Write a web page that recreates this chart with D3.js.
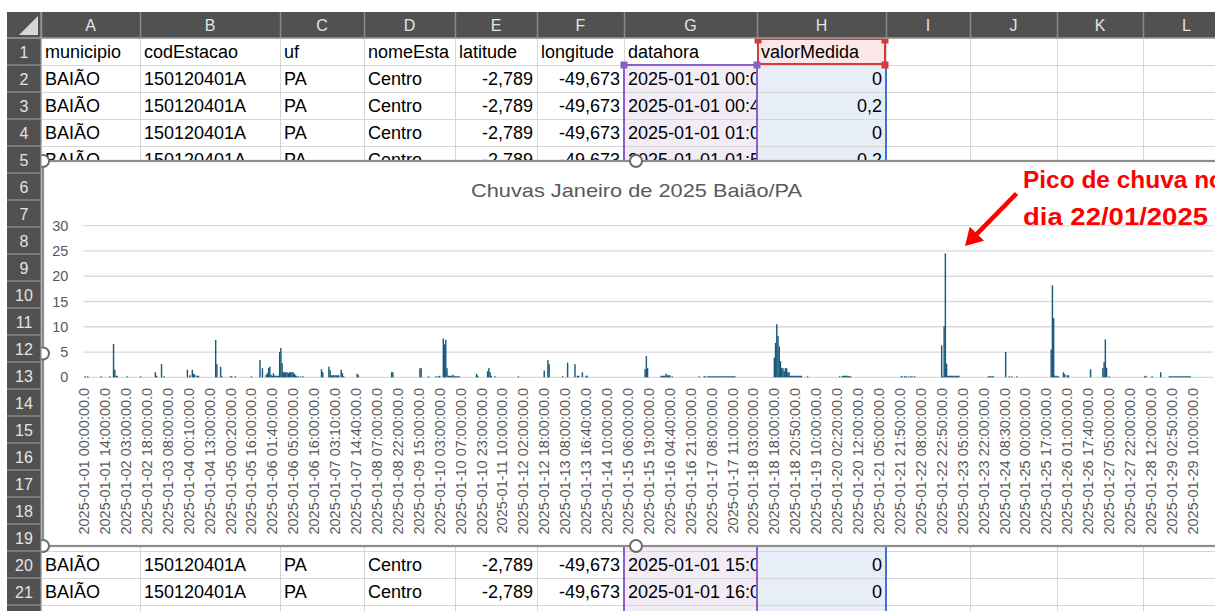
<!DOCTYPE html>
<html><head><meta charset="utf-8">
<script src="https://cdn.jsdelivr.net/npm/d3@7"></script>
<style>
html,body{margin:0;padding:0;background:#fff;overflow:hidden}
svg{display:block}
</style></head><body>
<svg id="sheet" width="1215" height="611"></svg>
<script>
// ---------------- DATA ----------------
const chartTitle = "Chuvas Janeiro de 2025 Baião/PA";
const annotationLines = ["Pico de chuva no", "dia 22/01/2025"];
const categoryCount = 918;          // number of datahora rows plotted
const labelStep = 17;               // Excel shows every 17th category label
const yTicks = [0, 5, 10, 15, 20, 25, 30];
const tickLabels = [
"2025-01-01 00:00:00.0","2025-01-01 14:00:00.0","2025-01-02 03:00:00.0","2025-01-02 18:00:00.0",
"2025-01-03 08:00:00.0","2025-01-04 00:10:00.0","2025-01-04 13:00:00.0","2025-01-05 00:20:00.0",
"2025-01-05 16:00:00.0","2025-01-06 01:40:00.0","2025-01-06 05:00:00.0","2025-01-06 16:00:00.0",
"2025-01-07 03:10:00.0","2025-01-07 14:40:00.0","2025-01-08 07:00:00.0","2025-01-08 22:00:00.0",
"2025-01-09 15:00:00.0","2025-01-10 03:00:00.0","2025-01-10 07:00:00.0","2025-01-10 23:00:00.0",
"2025-01-11 10:00:00.0","2025-01-12 02:00:00.0","2025-01-12 18:00:00.0","2025-01-13 08:00:00.0",
"2025-01-13 16:40:00.0","2025-01-14 10:00:00.0","2025-01-15 06:00:00.0","2025-01-15 19:00:00.0",
"2025-01-16 04:40:00.0","2025-01-16 21:00:00.0","2025-01-17 08:00:00.0","2025-01-17 11:00:00.0",
"2025-01-18 03:00:00.0","2025-01-18 18:00:00.0","2025-01-18 20:50:00.0","2025-01-19 10:00:00.0",
"2025-01-20 02:20:00.0","2025-01-20 12:00:00.0","2025-01-21 05:00:00.0","2025-01-21 21:50:00.0",
"2025-01-22 08:00:00.0","2025-01-22 22:50:00.0","2025-01-23 05:00:00.0","2025-01-23 22:00:00.0",
"2025-01-24 08:30:00.0","2025-01-25 00:00:00.0","2025-01-25 17:00:00.0","2025-01-26 01:00:00.0",
"2025-01-26 17:40:00.0","2025-01-27 05:00:00.0","2025-01-27 22:00:00.0","2025-01-28 12:00:00.0",
"2025-01-29 02:50:00.0","2025-01-29 10:00:00.0"];
// [category index, valorMedida (mm)] - non-zero readings only
const rainReadings = [
[1,0.2],[3,0.2],[14,0.2],[21,0.2],[24,6.6],[25,1.5],[26,0.3],[27,0.3],[35,0.2],[46,0.2],[58,1.0],[59,0.3],[63,2.6],[65,0.2],
[84,1.5],[86,0.4],[88,1.5],[89,0.7],[90,0.5],[92,0.3],[93,0.3],
[107,7.4],[108,2.6],[111,2.1],[112,0.2],[119,0.2],[120,0.2],[123,0.2],[136,0.2],
[143,3.4],[145,1.8],[148,0.5],[149,0.8],[150,1.8],[151,2.1],[152,0.5],[153,0.3],[154,0.8],[155,0.3],[156,0.3],[157,0.3],[158,0.3],
[159,5.0],[160,5.8],[161,2.8],[162,1.0],[163,1.0],[164,1.0],[165,1.0],[166,0.8],[167,1.0],[168,1.0],[169,1.0],[170,1.0],[171,0.7],
[172,0.4],[173,0.2],[174,0.2],[176,0.2],[178,0.2],
[193,1.6],[194,1.0],[199,2.1],[200,1.4],[201,0.4],[202,0.4],[203,0.4],[204,0.4],[205,0.4],[206,0.4],[207,0.4],
[209,1.5],[210,0.8],[211,0.2],[222,0.7],[223,0.4],[250,1.0],[251,1.0],[273,1.8],[274,1.8],[280,0.2],[286,0.2],[288,0.2],[289,0.3],
[292,7.7],[293,6.5],[294,7.4],[295,1.8],[296,0.3],[297,0.3],[298,0.3],[299,0.3],[300,0.5],[301,0.2],[302,0.2],[303,0.2],[304,0.2],[305,0.2],
[319,0.7],[320,0.3],[328,1.2],[329,1.8],[330,1.0],[331,0.3],[334,0.2],[353,0.2],
[374,1.3],[377,3.4],[378,2.6],[389,0.2],[393,2.9],[399,2.6],[401,0.3],[402,0.3],[405,1.0],[408,0.3],[409,0.3],
[456,1.6],[457,4.2],[458,1.8],[469,0.3],[470,0.3],[471,0.3],[472,0.3],[473,0.7],[474,0.4],[475,0.4],[476,0.4],[478,0.2],
[500,0.2],[504,0.2],[505,0.2],[507,0.2],[508,0.2],[509,0.2],[510,0.2],[511,0.2],[512,0.2],[513,0.2],[514,0.2],[515,0.2],
[516,0.2],[517,0.2],[518,0.2],[519,0.2],[520,0.2],[521,0.2],[522,0.2],[523,0.2],[524,0.2],[525,0.2],[526,0.2],[527,0.2],[528,0.2],[529,0.2],
[561,3.9],[562,6.8],[563,10.5],[564,8.2],[565,6.1],[566,3.2],[567,1.8],[568,1.8],[569,1.2],[570,1.8],[571,1.8],[572,1.0],[573,1.0],
[574,0.3],[575,0.3],[576,0.3],[577,0.3],[578,0.3],[579,0.3],[580,0.3],[581,0.3],[582,0.3],[583,0.3],[588,0.2],
[614,0.2],[616,0.2],[617,0.3],[618,0.3],[619,0.3],[620,0.3],[621,0.3],[622,0.2],[623,0.2],
[664,0.2],[665,0.2],[667,0.2],[668,0.2],[670,0.2],[672,0.2],[673,0.2],[675,0.2],
[697,6.3],[698,0.2],[699,10.1],[700,24.5],[701,2.7],[702,0.3],[703,0.3],[704,0.3],[705,0.3],[706,0.3],[707,0.3],[708,0.3],[709,0.3],[710,0.3],[711,0.3],
[735,0.2],[736,0.2],[737,0.2],[738,0.2],[739,0.2],[749,5.0],[752,0.2],[754,0.2],[758,0.2],
[786,5.5],[787,18.2],[788,11.7],[789,0.3],[790,0.3],[791,0.2],[792,0.2],
[796,1.0],[797,0.6],[799,0.4],[800,0.4],[818,1.6],
[828,1.8],[829,3.0],[830,7.5],[831,1.9],[833,0.2],[862,0.2],[863,0.3],[868,0.2],[875,1.0],
[882,0.2],[883,0.2],[884,0.2],[885,0.2],[886,0.2],[887,0.2],[888,0.2],[889,0.2],[890,0.2],[891,0.2],[892,0.2],[893,0.2],
[894,0.2],[895,0.2],[896,0.2],[897,0.2],[898,0.2],[899,0.2]];

// spreadsheet contents
const columnLetters = ["A","B","C","D","E","F","G","H","I","J","K","L"];
const headerCells = ["municipio","codEstacao","uf","nomeEsta","latitude","longitude","datahora","valorMedida"];
const sheetRows = [2,3,4,5,20,21];
const municipioCol = ["BAIÃO","BAIÃO","BAIÃO","BAIÃO","BAIÃO","BAIÃO"];
const codEstacaoCol = ["150120401A","150120401A","150120401A","150120401A","150120401A","150120401A"];
const ufCol = ["PA","PA","PA","PA","PA","PA"];
const nomeCol = ["Centro","Centro","Centro","Centro","Centro","Centro"];
const latitudeCol = ["-2,789","-2,789","-2,789","-2,789","-2,789","-2,789"];
const longitudeCol = ["-49,673","-49,673","-49,673","-49,673","-49,673","-49,673"];
const datahoraCol = ["2025-01-01 00:00:00.0","2025-01-01 00:40:00.0","2025-01-01 01:00:00.0","2025-01-01 01:50:00.0",
                     "2025-01-01 15:00:00.0","2025-01-01 16:00:00.0"];
const valorCol = ["0","0,2","0","0,2","0","0"];

// ---------------- LAYOUT ----------------
const W = 1215, H = 611;
const FONT = "'Liberation Sans', Arial, sans-serif";
const colEdges = [41,140,280,364,455,537,624,757,886,970,1057,1143,1230];
const rowH = 27, sheetTop = 38;
const rowTop = r => sheetTop + (r - 1) * rowH;

const svg = d3.select("#sheet");
const defs = svg.append("defs");
svg.append("rect").attr("width", W).attr("height", H).attr("fill", "#fff");

// selection fills (chart source ranges)
const gx0 = colEdges[6], gx1 = colEdges[7], hx1 = colEdges[8];
svg.append("rect").attr("x", gx0).attr("y", rowTop(2)).attr("width", gx1 - gx0).attr("height", H).attr("fill", "#f2ecf7");
svg.append("rect").attr("x", gx1).attr("y", rowTop(2)).attr("width", hx1 - gx1).attr("height", H).attr("fill", "#e8eef8");
svg.append("rect").attr("x", gx1).attr("y", rowTop(1)).attr("width", hx1 - gx1).attr("height", rowH).attr("fill", "#fbe7e7");

// sheet gridlines
const grid = svg.append("g").attr("stroke", "#d6d6d6").attr("stroke-width", 1);
for (let r = 1; r <= 23; r++) {
  grid.append("line").attr("x1", 41).attr("x2", W).attr("y1", rowTop(r) + 0.5).attr("y2", rowTop(r) + 0.5);
}
colEdges.forEach(x => grid.append("line").attr("x1", x + 0.5).attr("x2", x + 0.5).attr("y1", sheetTop).attr("y2", H));

// cell text
colEdges.slice(0, -1).forEach((x, i) => {
  defs.append("clipPath").attr("id", "col" + i).append("rect")
    .attr("x", x + 1).attr("y", 0).attr("width", colEdges[i + 1] - x - 2).attr("height", H);
});
const cells = svg.append("g").attr("font-family", FONT).attr("font-size", 18).attr("fill", "#000");
function cell(r, c, txt, align) {
  const x0 = colEdges[c], x1 = colEdges[c + 1];
  cells.append("text")
    .attr("clip-path", "url(#col" + c + ")")
    .attr("x", align === "end" ? x1 - 4 : x0 + 4)
    .attr("y", rowTop(r) + 20)
    .attr("text-anchor", align === "end" ? "end" : "start")
    .text(txt);
}
headerCells.forEach((t, c) => cell(1, c, t, "start"));
sheetRows.forEach((r, i) => {
  cell(r, 0, municipioCol[i], "start");
  cell(r, 1, codEstacaoCol[i], "start");
  cell(r, 2, ufCol[i], "start");
  cell(r, 3, nomeCol[i], "start");
  cell(r, 4, latitudeCol[i], "end");
  cell(r, 5, longitudeCol[i], "end");
  cell(r, 6, datahoraCol[i], "start");
  cell(r, 7, valorCol[i], "end");
});

// selection borders
const purple = "#8a5fc6", red = "#d43c3c", blue = "#3f73cf";
const sel = svg.append("g").attr("stroke-width", 2).attr("fill", "none");
sel.append("line").attr("x1", gx0).attr("x2", gx0).attr("y1", rowTop(2)).attr("y2", H).attr("stroke", purple);
sel.append("line").attr("x1", gx1).attr("x2", gx1).attr("y1", rowTop(2)).attr("y2", H).attr("stroke", purple);
sel.append("line").attr("x1", gx0).attr("x2", gx1).attr("y1", rowTop(2)).attr("y2", rowTop(2)).attr("stroke", purple);
sel.append("line").attr("x1", hx1).attr("x2", hx1).attr("y1", rowTop(2)).attr("y2", H).attr("stroke", blue);
sel.append("rect").attr("x", gx1 + 1).attr("y", rowTop(1) + 1).attr("width", hx1 - gx1 - 2).attr("height", rowH - 2).attr("stroke", red);
const sq = (x, y, col) => svg.append("rect").attr("x", x - 3.5).attr("y", y - 3.5).attr("width", 7).attr("height", 7).attr("fill", col);
sq(gx0, rowTop(2), purple); sq(gx1, rowTop(2), purple);
sq(gx1 + 1, rowTop(1) + 2, red); sq(hx1 - 1, rowTop(1) + 2, red); sq(hx1 - 1, rowTop(2), red);

// ---------------- CHART ----------------
const cx = 43, cy = 161, cw = 1186, ch = 385;
defs.append("clipPath").attr("id", "chartClip").append("rect").attr("x", cx).attr("y", cy).attr("width", cw).attr("height", ch);
svg.append("rect").attr("x", cx).attr("y", cy).attr("width", cw).attr("height", ch).attr("fill", "#fff");
const chart = svg.append("g").attr("clip-path", "url(#chartClip)");

const plotL = 83.4, plotR = 1213, plotT = 225.7, plotB = 377.3;
const x = d3.scaleBand().domain(d3.range(categoryCount)).range([plotL, plotR]).paddingInner(0).paddingOuter(0);
const y = d3.scaleLinear().domain([0, 30]).range([plotB, plotT]);

// gridlines
chart.append("g").selectAll("line").data(yTicks).join("line")
  .attr("x1", plotL).attr("x2", plotR)
  .attr("y1", d => y(d)).attr("y2", d => y(d))
  .attr("stroke", "#d9d9d9").attr("stroke-width", 1.3);

// y axis
const yAxis = chart.append("g").attr("transform", `translate(${plotL},0)`)
  .call(d3.axisLeft(y).tickValues(yTicks).tickSize(0).tickPadding(15));
yAxis.select(".domain").remove();
yAxis.selectAll("text").attr("font-family", FONT).attr("font-size", 14.5).attr("fill", "#595959");

// bars
chart.append("g").selectAll("rect").data(rainReadings).join("rect")
  .attr("x", d => x(d[0]) - 0.1).attr("width", x.bandwidth() + 0.2)
  .attr("y", d => y(d[1])).attr("height", d => y(0) - y(d[1]))
  .attr("fill", "#185a7d");

// x axis
const xAxis = chart.append("g").attr("transform", `translate(0,${plotB})`)
  .call(d3.axisBottom(x)
    .tickValues(d3.range(0, categoryCount, labelStep))
    .tickFormat(i => tickLabels[i / labelStep])
    .tickSize(0));
xAxis.select(".domain").remove();
xAxis.selectAll("text")
  .attr("font-family", FONT).attr("font-size", 14.5).attr("fill", "#595959")
  .attr("transform", "rotate(-90)")
  .attr("x", -10.5).attr("y", 0).attr("dy", "0.35em")
  .attr("text-anchor", "end");

// title
chart.append("text").attr("x", 636.5).attr("y", 197)
  .attr("text-anchor", "middle").attr("font-family", FONT).attr("font-size", 19)
  .attr("fill", "#595959").attr("textLength", 331).attr("lengthAdjust", "spacingAndGlyphs")
  .text(chartTitle);

// chart frame + handles
svg.append("rect").attr("x", cx).attr("y", cy).attr("width", cw).attr("height", ch)
  .attr("fill", "none").attr("stroke", "#8c8c8c").attr("stroke-width", 2.2);
[[cx, cy], [636, cy], [cx, cy + ch / 2], [cx, cy + ch], [636, cy + ch]].forEach(p => {
  svg.append("circle").attr("cx", p[0]).attr("cy", p[1]).attr("r", 6)
    .attr("fill", "#fff").attr("stroke", "#6b6b6b").attr("stroke-width", 2);
});

// annotation
const ann = svg.append("g").attr("fill", "#ff0000").attr("font-family", FONT).attr("font-weight", "bold").attr("font-size", 23.5);
ann.append("text").attr("x", 1023).attr("y", 188).attr("textLength", 201).attr("lengthAdjust", "spacingAndGlyphs").text(annotationLines[0]);
ann.append("text").attr("x", 1023).attr("y", 225).attr("textLength", 185).attr("lengthAdjust", "spacingAndGlyphs").text(annotationLines[1]);
const tail = [1016.5, 193.5], tip = [965, 246];
const dx = tip[0] - tail[0], dy = tip[1] - tail[1], len = Math.hypot(dx, dy);
const ux = dx / len, uy = dy / len, nx = -uy, ny = ux, HL = 17, HW = 10;
svg.append("line").attr("x1", tail[0]).attr("y1", tail[1])
  .attr("x2", tip[0] - ux * HL * 0.9).attr("y2", tip[1] - uy * HL * 0.9)
  .attr("stroke", "#ff0000").attr("stroke-width", 4.5);
svg.append("polygon").attr("fill", "#ff0000").attr("points", [
  tip, [tip[0] - ux * HL + nx * HW, tip[1] - uy * HL + ny * HW], [tip[0] - ux * HL - nx * HW, tip[1] - uy * HL - ny * HW]
].map(p => p.join(",")).join(" "));

// ---------------- HEADERS (drawn on top) ----------------
const hdrBg = "#515151", hdrTxt = "#e4e4e4", hdrSep = "#888888";
svg.append("rect").attr("x", 0).attr("y", 0).attr("width", W).attr("height", 12).attr("fill", "#fff");
svg.append("rect").attr("x", 0).attr("y", 0).attr("width", 7).attr("height", H).attr("fill", "#fff");
svg.append("rect").attr("x", 7).attr("y", 12).attr("width", W - 7).attr("height", sheetTop - 12).attr("fill", hdrBg);
svg.append("rect").attr("x", 7).attr("y", sheetTop).attr("width", 41 - 7).attr("height", H - sheetTop).attr("fill", hdrBg);
// corner triangle
svg.append("polygon").attr("points", "19,35 38,35 38,16").attr("fill", "#d6d6d6");
const hdr = svg.append("g");
colEdges.forEach(xe => hdr.append("line").attr("x1", xe + 0.5).attr("x2", xe + 0.5).attr("y1", 12).attr("y2", sheetTop).attr("stroke", hdrSep).attr("stroke-width", 1.5));
columnLetters.forEach((L, i) => {
  hdr.append("text").attr("x", (colEdges[i] + colEdges[i + 1]) / 2).attr("y", 31)
    .attr("text-anchor", "middle").attr("font-family", FONT).attr("font-size", 16).attr("fill", hdrTxt).text(L);
});
hdr.append("line").attr("x1", 7).attr("x2", W).attr("y1", sheetTop).attr("y2", sheetTop).attr("stroke", "#9a9a9a").attr("stroke-width", 1.5);
for (let r = 1; r <= 21; r++) {
  hdr.append("line").attr("x1", 7).attr("x2", 41).attr("y1", rowTop(r + 1)).attr("y2", rowTop(r + 1)).attr("stroke", hdrSep).attr("stroke-width", 1.5);
  hdr.append("text").attr("x", 24).attr("y", rowTop(r) + 19.5).attr("text-anchor", "middle")
    .attr("font-family", FONT).attr("font-size", 16).attr("fill", hdrTxt).text(r);
}
hdr.append("line").attr("x1", 41).attr("x2", 41).attr("y1", 12).attr("y2", H).attr("stroke", "#9a9a9a").attr("stroke-width", 1.2);
</script>
</body></html>
